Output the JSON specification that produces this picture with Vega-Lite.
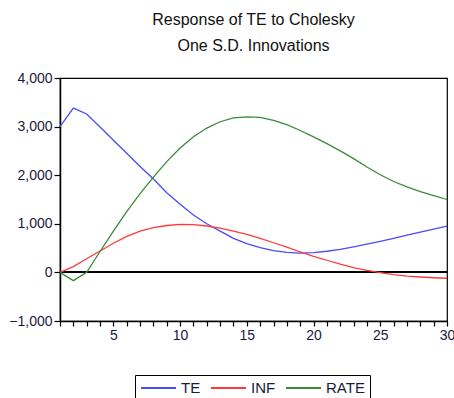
{
  "$schema": "https://vega.github.io/schema/vega-lite/v6.json",
  "autosize": {"type": "none"},
  "width": 387,
  "height": 243,
  "padding": {"left": 60, "top": 78, "right": 7, "bottom": 77},
  "background": "white",
  "title": {
    "text": ["Response of TE to Cholesky", "One S.D. Innovations"],
    "font": "Liberation Sans",
    "fontSize": 16,
    "fontWeight": "normal",
    "color": "#111",
    "lineHeight": 26,
    "offset": 17,
    "anchor": "middle"
  },
  "config": {
    "view": {"stroke": "black", "strokeWidth": 1.2},
    "font": "Liberation Sans",
    "axis": {
      "domainColor": "black",
      "tickColor": "black",
      "labelColor": "#1a1a40",
      "labelFont": "Liberation Sans",
      "labelFontSize": 14,
      "grid": false,
      "title": null,
      "domainWidth": 1.5,
      "tickWidth": 1.2
    },
    "legend": {"labelFont": "Liberation Sans"}
  },
  "data": {
    "values": [
      {"x": 1, "s": "TE", "v": 3000}, {"x": 2, "s": "TE", "v": 3380}, {"x": 3, "s": "TE", "v": 3260},
      {"x": 4, "s": "TE", "v": 2990}, {"x": 5, "s": "TE", "v": 2720}, {"x": 6, "s": "TE", "v": 2450},
      {"x": 7, "s": "TE", "v": 2180}, {"x": 8, "s": "TE", "v": 1920}, {"x": 9, "s": "TE", "v": 1640},
      {"x": 10, "s": "TE", "v": 1400}, {"x": 11, "s": "TE", "v": 1180}, {"x": 12, "s": "TE", "v": 1000},
      {"x": 13, "s": "TE", "v": 850}, {"x": 14, "s": "TE", "v": 700}, {"x": 15, "s": "TE", "v": 590},
      {"x": 16, "s": "TE", "v": 510}, {"x": 17, "s": "TE", "v": 450}, {"x": 18, "s": "TE", "v": 410},
      {"x": 19, "s": "TE", "v": 395}, {"x": 20, "s": "TE", "v": 405}, {"x": 21, "s": "TE", "v": 435},
      {"x": 22, "s": "TE", "v": 475}, {"x": 23, "s": "TE", "v": 525}, {"x": 24, "s": "TE", "v": 580},
      {"x": 25, "s": "TE", "v": 640}, {"x": 26, "s": "TE", "v": 700}, {"x": 27, "s": "TE", "v": 765},
      {"x": 28, "s": "TE", "v": 830}, {"x": 29, "s": "TE", "v": 890}, {"x": 30, "s": "TE", "v": 950},
      {"x": 1, "s": "INF", "v": 0}, {"x": 2, "s": "INF", "v": 120}, {"x": 3, "s": "INF", "v": 280},
      {"x": 4, "s": "INF", "v": 440}, {"x": 5, "s": "INF", "v": 600}, {"x": 6, "s": "INF", "v": 740},
      {"x": 7, "s": "INF", "v": 850}, {"x": 8, "s": "INF", "v": 920}, {"x": 9, "s": "INF", "v": 965},
      {"x": 10, "s": "INF", "v": 990}, {"x": 11, "s": "INF", "v": 985}, {"x": 12, "s": "INF", "v": 955},
      {"x": 13, "s": "INF", "v": 910}, {"x": 14, "s": "INF", "v": 850}, {"x": 15, "s": "INF", "v": 780},
      {"x": 16, "s": "INF", "v": 700}, {"x": 17, "s": "INF", "v": 610}, {"x": 18, "s": "INF", "v": 520},
      {"x": 19, "s": "INF", "v": 420}, {"x": 20, "s": "INF", "v": 330}, {"x": 21, "s": "INF", "v": 250},
      {"x": 22, "s": "INF", "v": 170}, {"x": 23, "s": "INF", "v": 100}, {"x": 24, "s": "INF", "v": 40},
      {"x": 25, "s": "INF", "v": -5}, {"x": 26, "s": "INF", "v": -45}, {"x": 27, "s": "INF", "v": -75},
      {"x": 28, "s": "INF", "v": -95}, {"x": 29, "s": "INF", "v": -110}, {"x": 30, "s": "INF", "v": -120},
      {"x": 1, "s": "RATE", "v": 0}, {"x": 2, "s": "RATE", "v": -170}, {"x": 3, "s": "RATE", "v": 0},
      {"x": 4, "s": "RATE", "v": 430}, {"x": 5, "s": "RATE", "v": 850}, {"x": 6, "s": "RATE", "v": 1250},
      {"x": 7, "s": "RATE", "v": 1620}, {"x": 8, "s": "RATE", "v": 1960}, {"x": 9, "s": "RATE", "v": 2280},
      {"x": 10, "s": "RATE", "v": 2560}, {"x": 11, "s": "RATE", "v": 2790}, {"x": 12, "s": "RATE", "v": 2970},
      {"x": 13, "s": "RATE", "v": 3100}, {"x": 14, "s": "RATE", "v": 3180}, {"x": 15, "s": "RATE", "v": 3200},
      {"x": 16, "s": "RATE", "v": 3190}, {"x": 17, "s": "RATE", "v": 3130}, {"x": 18, "s": "RATE", "v": 3040},
      {"x": 19, "s": "RATE", "v": 2920}, {"x": 20, "s": "RATE", "v": 2790}, {"x": 21, "s": "RATE", "v": 2650},
      {"x": 22, "s": "RATE", "v": 2500}, {"x": 23, "s": "RATE", "v": 2340}, {"x": 24, "s": "RATE", "v": 2170},
      {"x": 25, "s": "RATE", "v": 2010}, {"x": 26, "s": "RATE", "v": 1870}, {"x": 27, "s": "RATE", "v": 1760},
      {"x": 28, "s": "RATE", "v": 1660}, {"x": 29, "s": "RATE", "v": 1580}, {"x": 30, "s": "RATE", "v": 1500}
    ]
  },
  "layer": [
    {
      "mark": {"type": "rule", "color": "black", "strokeWidth": 1.2},
      "encoding": {"y": {"datum": 0, "type": "quantitative"}}
    },
    {
      "mark": {"type": "line", "strokeWidth": 1.3},
      "encoding": {
        "x": {
          "field": "x", "type": "quantitative",
          "scale": {"domain": [1, 30], "nice": false, "zero": false},
          "axis": {
            "values": [1,2,3,4,5,6,7,8,9,10,11,12,13,14,15,16,17,18,19,20,21,22,23,24,25,26,27,28,29,30],
            "labelExpr": "datum.value % 5 == 0 ? datum.label : ''",
            "tickSize": 5,
            "labelPadding": 2,
            "labelFlush": false
          }
        },
        "y": {
          "field": "v", "type": "quantitative",
          "scale": {"domain": [-1000, 4000], "nice": false},
          "axis": {"values": [-1000, 0, 1000, 2000, 3000, 4000], "format": ",d", "tickSize": 6, "labelPadding": 2}
        },
        "color": {
          "field": "s", "type": "nominal",
          "scale": {"domain": ["TE", "INF", "RATE"], "range": ["#4a4aff", "#ff3a3a", "#3a8a3a"]},
          "legend": {
            "title": null,
            "orient": "none",
            "legendX": 75,
            "legendY": 297,
            "direction": "horizontal",
            "symbolType": "M-1,0H4",
            "symbolSize": 196,
            "symbolStrokeWidth": 2,
            "labelOffset": 25,
            "labelFont": "Liberation Sans",
            "labelFontSize": 15,
            "labelColor": "#1a1a40",
            "strokeColor": "black",
            "padding": 5,
            "columnPadding": 6
          }
        }
      }
    }
  ]
}
